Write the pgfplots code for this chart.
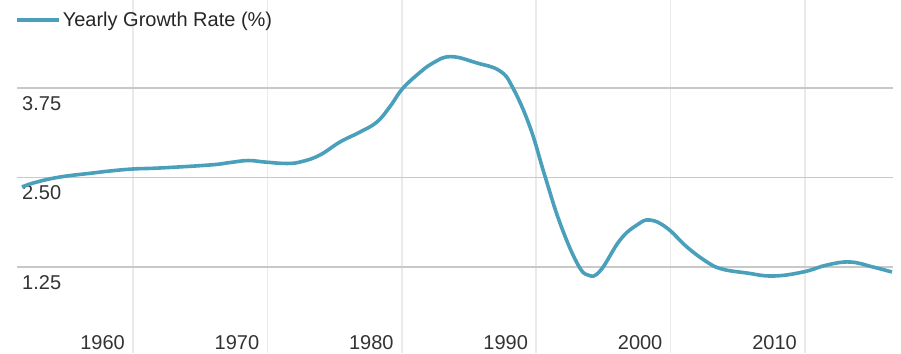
\documentclass[border=0pt]{standalone}
\usepackage{pgfplots}
\pgfplotsset{compat=1.18}
\usepackage{fontspec}
\setmainfont{Liberation Sans}

\definecolor{growth}{RGB}{74,160,186}
\definecolor{hgrid}{RGB}{200,200,200}
\definecolor{vgrid}{RGB}{234,234,234}
\definecolor{labeltext}{RGB}{51,51,51}

\newcommand{\lblfont}{\fontsize{20}{23}\selectfont}

\begin{document}
\begin{tikzpicture}
\begin{axis}[
  scale only axis,
  width=876pt, height=353pt,
  xmin=1951.37, xmax=2016.55,
  ymin=0.049, ymax=4.979,
  axis line style={draw=none},
  major tick length=0pt,
  xtick={1960,1970,1980,1990,2000,2010},
  xticklabels={1960,1970,1980,1990,2000,2010},
  ytick={1.25,2.5,3.75},
  yticklabels={1.25,2.50,3.75},
  xmajorgrids, ymajorgrids,
  x grid style={vgrid, line width=1.5pt},
  y grid style={hgrid, line width=1.8pt},
  xticklabel style={font=\lblfont, text=labeltext, anchor=east, inner sep=0pt, xshift=-8pt, yshift=10pt},
  yticklabel style={font=\lblfont, text=labeltext, anchor=west, inner sep=0pt, xshift=5pt, yshift=-15.5pt},
  legend style={draw=none, fill=none, at={(0,0.943)}, anchor=west, inner sep=0pt,
    xshift=-2pt, font=\lblfont, text=black!85, legend cell align=left},
  legend image code/.code={\draw[line width=3.5pt, growth] (0pt,0pt) -- (39pt,0pt);
    \path (0pt,0pt) -- (42pt,0pt);},
]
% yearly growth rate, percent
\addplot[growth, line width=3.6pt, smooth, tension=0.7] coordinates {
  (1951.74,2.367) (1952.71,2.430) (1954.57,2.507) (1957.02,2.563)
  (1958.29,2.591) (1960.00,2.619) (1962.01,2.633) (1965.73,2.675)
  (1967.22,2.709) (1968.56,2.737) (1969.82,2.716) (1971.46,2.696)
  (1972.57,2.723) (1973.91,2.814) (1975.40,2.996) (1976.89,3.135)
  (1978.15,3.275) (1979.12,3.490) (1980.01,3.730) (1981.13,3.932)
  (1982.32,4.099) (1983.65,4.188)
  (1985.60,4.099) (1987.31,3.987) (1988.27,3.750) (1989.54,3.205)
  (1990.65,2.521) (1991.77,1.865) (1993.04,1.306) (1993.85,1.138)
  (1994.75,1.194) (1996.24,1.627) (1997.50,1.837) (1998.47,1.906)
  (1999.73,1.795) (2001.22,1.529) (2002.71,1.320) (2003.82,1.222)
  (2005.68,1.166) (2007.62,1.124) (2009.85,1.180) (2011.64,1.278)
  (2013.35,1.320) (2015.06,1.250) (2016.47,1.180)
};
\addlegendentry{Yearly Growth Rate (\%)}
\end{axis}
\pgfresetboundingbox
\path ([xshift=-17pt]current axis.south west) rectangle ([xshift=8pt]current axis.north east);
\end{tikzpicture}
\end{document}
